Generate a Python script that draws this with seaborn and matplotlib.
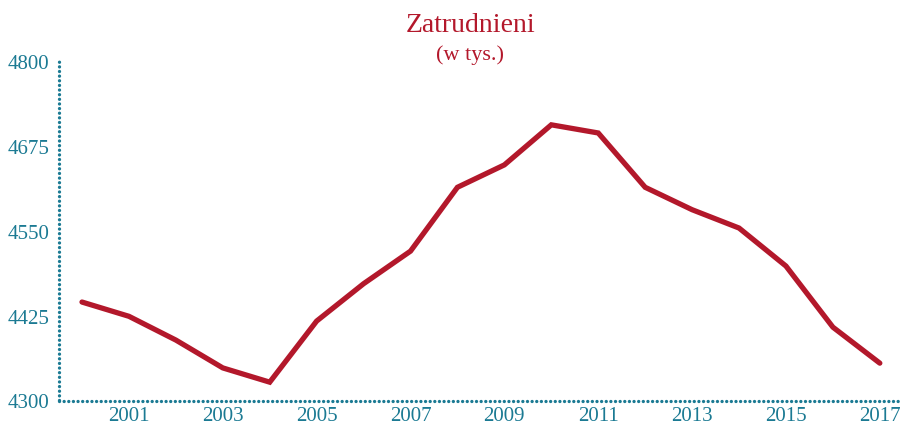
import matplotlib
matplotlib.use("Agg")
import matplotlib.pyplot as plt
import pandas as pd
import seaborn as sns

# employed persons (thousands)
years = list(range(2000, 2018))
employed = [4445, 4424, 4389, 4348, 4327, 4417, 4472, 4520, 4614, 4647,
            4706, 4694, 4614, 4581, 4554, 4498, 4408, 4355]
y_ticks = [4300, 4425, 4550, 4675, 4800]
x_ticks = [2001, 2003, 2005, 2007, 2009, 2011, 2013, 2015, 2017]

TEAL = "#1b7a93"
RED = "#b3182b"

sns.set_theme(style="white")
plt.rcParams["font.family"] = ["Liberation Serif", "DejaVu Serif"]

df = pd.DataFrame({"rok": years, "zatrudnieni": employed})

fig = plt.figure(figsize=(9.01, 4.27), dpi=100)
ax = fig.add_axes([59 / 901, 1 - 401.5 / 427, 841 / 901, (401.5 - 62) / 427])

sns.lineplot(data=df, x="rok", y="zatrudnieni", ax=ax, color=RED,
             linewidth=3.8, solid_joinstyle="miter", solid_capstyle="round")

ax.set_xlim(1999.51, 2017.43)
ax.set_ylim(4300, 4800)
ax.set_xticks(x_ticks)
ax.set_yticks(y_ticks)
ax.set_xlabel("")
ax.set_ylabel("")
ax.tick_params(axis="both", length=0, labelsize=15, labelcolor=TEAL)
ax.tick_params(axis="y", pad=7)
ax.tick_params(axis="x", pad=4)

for side in ["top", "right"]:
    ax.spines[side].set_visible(False)
for side in ["left", "bottom"]:
    sp = ax.spines[side]
    sp.set_color(TEAL)
    sp.set_linewidth(2.4)
    sp.set_linestyle((0, (0.01, 1.38)))
    sp.set_capstyle("round")

fig.text(0.522, 0.94, "Zatrudnieni", ha="center", va="center",
         fontsize=20, color=RED)
fig.text(0.522, 0.871, "(w tys.)", ha="center", va="center",
         fontsize=16, color=RED)

fig.savefig("out.png", dpi=100)
